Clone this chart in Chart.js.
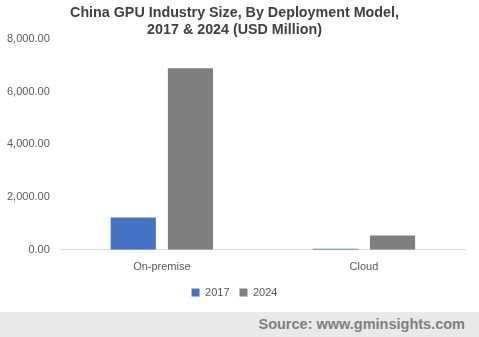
<!DOCTYPE html>
<html>
<head>
<meta charset="utf-8">
<script src="https://cdn.jsdelivr.net/npm/chart.js@4"></script>
<style>
  body { margin: 0; background: #fff; }
  #wrap { position: relative; width: 479px; height: 312px; }
  #src { width: 479px; height: 25px; background: #e9e9e9; color: #7f7f7f;
         font: bold 14.5px "Liberation Sans", Arial, sans-serif; text-align: right;
         line-height: 25px; box-sizing: border-box; padding-right: 14px; }
</style>
</head>
<body>
<div id="wrap"><canvas id="gpuChart"></canvas></div>
<div id="src">Source: www.gminsights.com</div>
<script>
  // data
  const categories = ['On-premise', 'Cloud'];
  const years = ['2017', '2024'];
  const values2017 = [1225, 40];
  const values2024 = [6890, 540];
  const yTicks = [0, 2000, 4000, 6000, 8000];

  const ctx = document.getElementById('gpuChart');
  const myChart = new Chart(ctx, {
    type: 'bar',
    data: {
      labels: categories,
      datasets: [{
        label: years[0],
        data: values2017,
        backgroundColor: '#4472c4'
      }, {
        label: years[1],
        data: values2024,
        backgroundColor: '#7f7f7f'
      }]
    },
    options: {
      responsive: true,
      maintainAspectRatio: false,
      animation: false,
      categoryPercentage: 0.566,
      barPercentage: 0.79,
      layout: { padding: { left: 4, right: 14, top: 5, bottom: 4 } },
      plugins: {
        title: {
          display: true,
          text: ['China GPU Industry Size, By Deployment Model,', '2017 & 2024 (USD Million)'],
          color: '#404040',
          font: { family: '"Liberation Sans", Arial, sans-serif', size: 14.3, weight: 'bold', lineHeight: 1.15 },
          padding: { top: 0, bottom: 1 }
        },
        legend: {
          position: 'bottom',
          labels: {
            boxWidth: 8, boxHeight: 8,
            color: '#595959',
            font: { family: '"Liberation Sans", Arial, sans-serif', size: 11 }
          }
        },
        tooltip: { enabled: false }
      },
      scales: {
        x: {
          grid: { display: false },
          border: { color: '#d9d9d9' },
          ticks: { color: '#595959', font: { family: '"Liberation Sans", Arial, sans-serif', size: 11 } }
        },
        y: {
          min: 0, max: 8000,
          afterBuildTicks: axis => { axis.ticks = yTicks.map(v => ({ value: v })); },
          grid: { display: false },
          border: { display: false },
          ticks: {
            color: '#595959',
            font: { family: '"Liberation Sans", Arial, sans-serif', size: 11 },
            callback: v => v.toLocaleString('en-US', { minimumFractionDigits: 2, maximumFractionDigits: 2 })
          }
        }
      }
    }
  });
</script>
</body>
</html>
